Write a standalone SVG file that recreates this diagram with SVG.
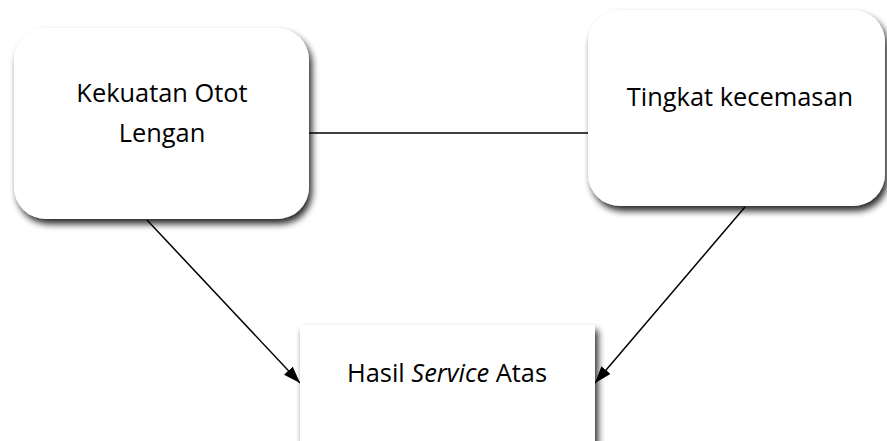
<svg xmlns="http://www.w3.org/2000/svg" width="887" height="441" viewBox="0 0 887 441">
  <style>
    .box { fill: #ffffff; filter: url(#shadow); }
    .label { font-family: "Open Sans", "Liberation Sans", Arial, sans-serif; font-size: 25.4px; fill: #000000; text-anchor: middle; }
    .link { stroke: #000000; stroke-width: 1.5; fill: none; }
  </style>
  <defs>
    <filter id="shadow" x="-10%" y="-10%" width="125%" height="135%">
      <feGaussianBlur in="SourceAlpha" stdDeviation="3.5"/>
      <feOffset dx="3" dy="5" result="blur"/>
      <feComponentTransfer><feFuncA type="linear" slope="0.85"/></feComponentTransfer>
      <feMerge>
        <feMergeNode/>
        <feMergeNode in="SourceGraphic"/>
      </feMerge>
    </filter>
    <marker id="arrow" viewBox="0 0 17 12" refX="17" refY="6" markerWidth="17" markerHeight="12" markerUnits="userSpaceOnUse" orient="auto">
      <path d="M0,0 L17,6 L0,12 Z" fill="#000000"/>
    </marker>
  </defs>
  <rect width="887" height="441" fill="#ffffff"/>

  <g id="connectors">
    <line class="link" x1="309" y1="133" x2="588" y2="133"/>
    <line class="link" x1="147" y1="220" x2="300" y2="383" marker-end="url(#arrow)"/>
    <line class="link" x1="745" y1="207" x2="595" y2="383" marker-end="url(#arrow)"/>
  </g>

  <g id="node-kekuatan">
    <rect class="box" x="14" y="28" width="295" height="191" rx="32" ry="32"/>
    <text class="label" x="162" y="102">Kekuatan Otot</text>
    <text class="label" x="162" y="142">Lengan</text>
  </g>

  <g id="node-kecemasan">
    <rect class="box" x="588" y="10" width="297" height="196" rx="32" ry="32"/>
    <text class="label" x="740" y="106">Tingkat kecemasan</text>
  </g>

  <g id="node-hasil">
    <rect class="box" x="300" y="325" width="295" height="130"/>
    <text class="label" x="447" y="382">Hasil <tspan font-style="italic">Service</tspan> Atas</text>
  </g>
</svg>
